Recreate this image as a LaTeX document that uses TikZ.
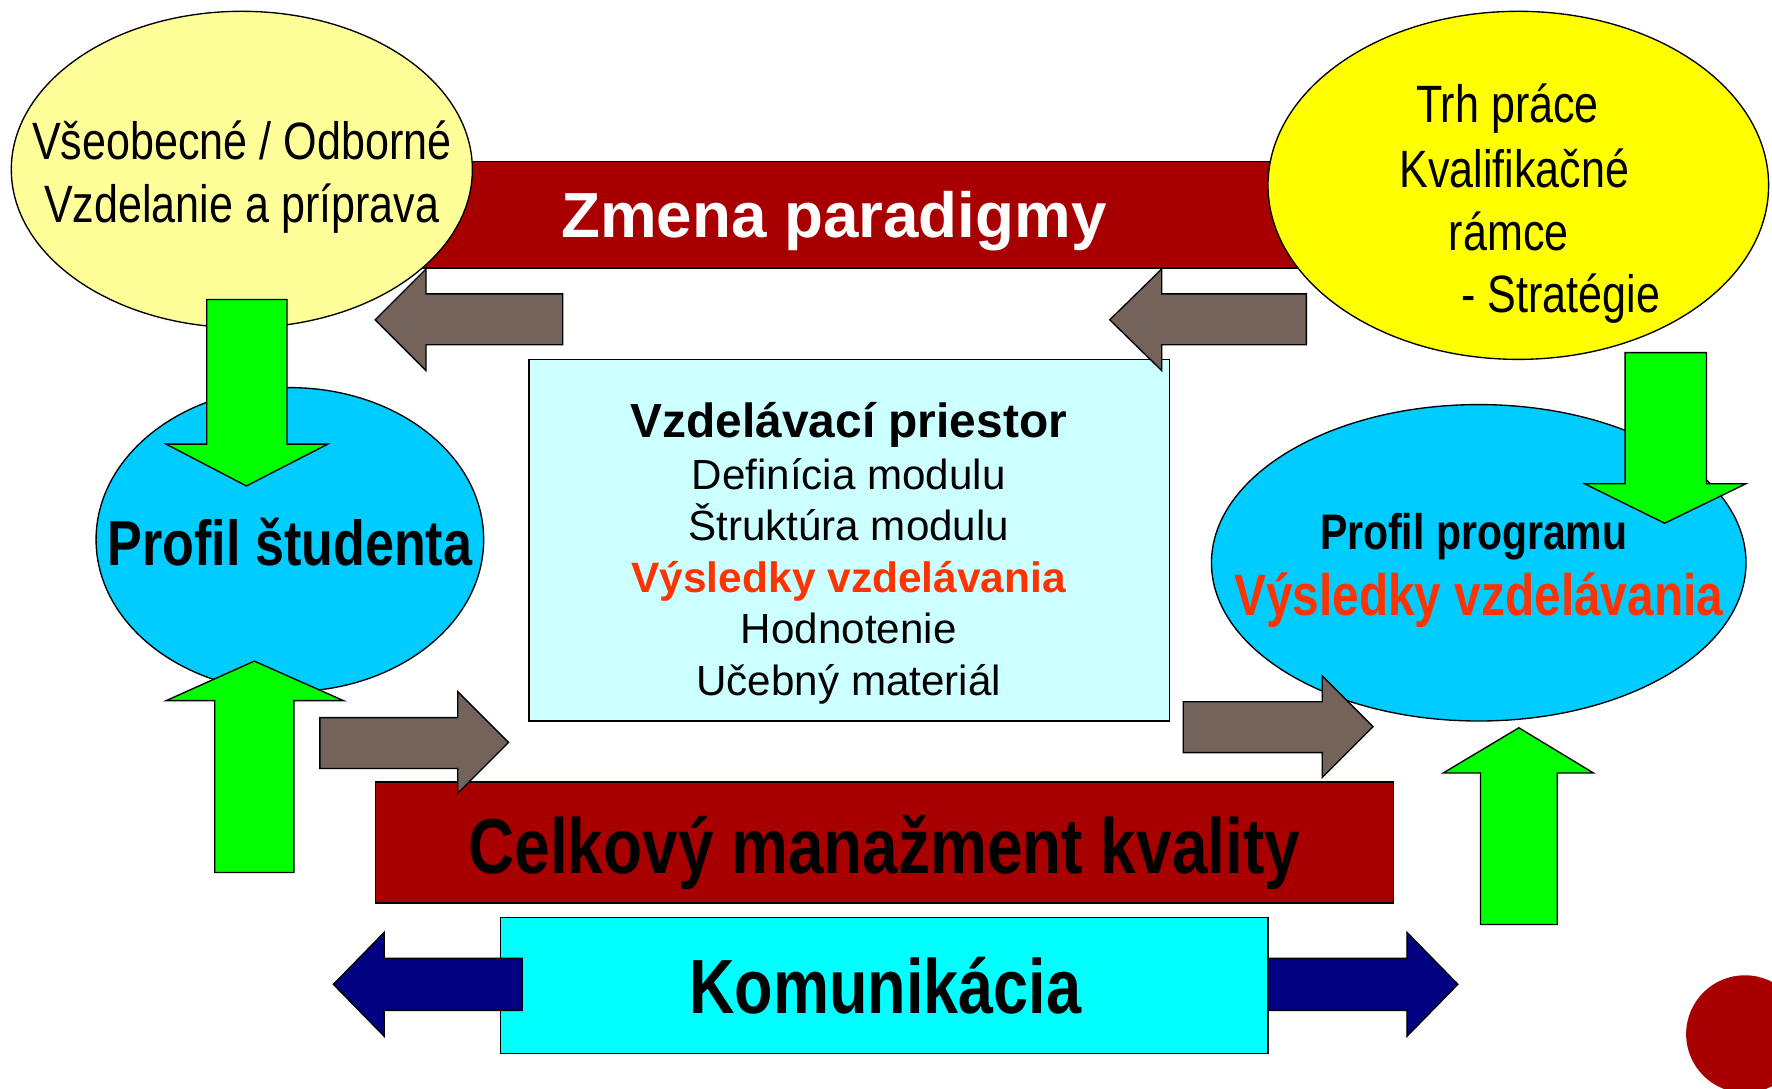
\documentclass[tikz,border=0pt]{standalone}
\usepackage{fontspec}
\setmainfont{Liberation Sans}
\newfontfamily\narrowfont[FakeStretch=0.82]{Liberation Sans}
\usetikzlibrary{shapes.geometric}
\definecolor{paleyel}{HTML}{FFFF99}
\definecolor{brightyel}{HTML}{FFFF00}
\definecolor{darkred}{HTML}{A80000}
\definecolor{brownarr}{HTML}{73635A}
\definecolor{palecyan}{HTML}{CCFFFF}
\definecolor{skyblue}{HTML}{00CCFF}
\definecolor{brightgreen}{HTML}{00FF00}
\definecolor{navyarr}{HTML}{000080}
\definecolor{cyanbox}{HTML}{00FFFF}
\definecolor{redtext}{HTML}{FF3300}
\begin{document}
\begin{tikzpicture}[x=0.5pt,y=-0.5pt,line width=0.6pt,
  ell/.style={draw=black,ellipse,inner sep=0pt},
  barbox/.style={draw=black,rectangle,inner sep=0pt},
  txt/.style={anchor=base,inner sep=0pt,text=black},
  blockarr/.style={draw=black,line join=miter},
  ntxt/.style={font=\narrowfont\fontsize{#1}{#1}\selectfont},
  ntxtb/.style={font=\narrowfont\bfseries\fontsize{#1}{#1}\selectfont},
  rtxt/.style={font=\fontsize{#1}{#1}\selectfont},
  rtxtb/.style={font=\bfseries\fontsize{#1}{#1}\selectfont}]
\useasboundingbox (0,0) rectangle (1568,963);
\fill[white] (0,0) rectangle (1568,963);

% Zmena paradigmy bar
\node (zmena) [barbox,fill=darkred,minimum width=450pt,minimum height=47pt] at (750,190) {};
\node (zmenat) [txt,rtxtb=28.2,text=white] at (738,210) {Zmena paradigmy};

% top ellipses
\node (vseob) [ell,fill=paleyel,minimum width=204pt,minimum height=140pt] at (214,150) {};
\node (vs1) [txt,ntxt=23.25] at (214,141.5) {Všeobecné / Odborné};
\node (vs2) [txt,ntxt=23.25] at (214,196.5) {Vzdelanie a príprava};

\node (trh) [ell,fill=brightyel,minimum width=221.5pt,minimum height=154pt] at (1343.5,164) {};
\node (tr1) [txt,ntxt=23.25] at (1334,108.5) {Trh práce};
\node (tr2) [txt,ntxt=23.25] at (1340,165.5) {Kvalifikačné};
\node (tr3) [txt,ntxt=23.25] at (1335,221.5) {rámce};
\node (tr4) [txt,ntxt=23.25] at (1381,276.5) {- Stratégie};

% center box
\node (priestor) [barbox,fill=palecyan,minimum width=283.5pt,minimum height=160pt] at (751.5,478) {};
\node (p0) [txt,rtxtb=21.2] at (751,387) {Vzdelávací priestor};
\node (p1) [txt,rtxt=18.65] at (751,433) {Definícia modulu};
\node (p2) [txt,rtxt=18.65] at (751,478.5) {Štruktúra modulu};
\node (p3) [txt,rtxtb=18.8,text=redtext] at (751,524) {Výsledky vzdelávania};
\node (p4) [txt,rtxt=18.65] at (751,569.5) {Hodnotenie};
\node (p5) [txt,rtxt=18.65] at (751,615) {Učebný materiál};

% brown arrows (top)
\draw[blockarr,fill=brownarr] (498,260) -- (377,260) -- (377,238) -- (332,283) -- (377,328) -- (377,305) -- (498,305) -- cycle;
\draw[blockarr,fill=brownarr] (1156,260) -- (1028,260) -- (1028,238) -- (982,283) -- (1028,328) -- (1028,305) -- (1156,305) -- cycle;

% profile ellipses
\node (student) [ell,fill=skyblue,minimum width=171.5pt,minimum height=134.5pt] at (256.5,477.5) {};
\node (studentt) [txt,ntxtb=28.1] at (256.5,500) {Profil študenta};

\node (program) [ell,fill=skyblue,minimum width=236.5pt,minimum height=140pt] at (1308.5,498) {};
\node (programt) [txt,ntxtb=22.1] at (1304,486) {Profil programu};
\node (programv) [txt,ntxtb=25.8,text=redtext] at (1308.5,545) {Výsledky vzdelávania};

% green arrows
\draw[blockarr,fill=brightgreen] (183,265) -- (254,265) -- (254,393) -- (290,393) -- (218,430) -- (147,393) -- (183,393) -- cycle;
\draw[blockarr,fill=brightgreen] (190,772) -- (260,772) -- (260,620) -- (304,620) -- (225,585) -- (147,620) -- (190,620) -- cycle;
\draw[blockarr,fill=brightgreen] (1438,312) -- (1510,312) -- (1510,428) -- (1545,428) -- (1473,463) -- (1402,428) -- (1438,428) -- cycle;
\draw[blockarr,fill=brightgreen] (1310,818) -- (1378,818) -- (1378,684) -- (1410,684) -- (1344,644) -- (1277,684) -- (1310,684) -- cycle;

% Celkovy bar
\node (tqm) [barbox,fill=darkred,minimum width=450.5pt,minimum height=53.5pt] at (782.5,745.5) {};
\node (tqmt) [txt,ntxtb=34.5] at (782.5,772.5) {Celkový manažment kvality};

% brown arrows (bottom)
\draw[blockarr,fill=brownarr] (283,635) -- (405,635) -- (405,612) -- (450,657) -- (405,702) -- (405,680) -- (283,680) -- cycle;
\draw[blockarr,fill=brownarr] (1047,621) -- (1170,621) -- (1170,598) -- (1215,643) -- (1170,688) -- (1170,666) -- (1047,666) -- cycle;

% Komunikacia
\node (komm) [barbox,fill=cyanbox,minimum width=339.5pt,minimum height=60pt] at (782.5,872) {};
\node (kommt) [txt,ntxtb=34] at (783.5,897) {Komunikácia};
\draw[blockarr,fill=navyarr] (462,848) -- (340,848) -- (340,825) -- (295,871) -- (340,917) -- (340,894) -- (462,894) -- cycle;
\draw[blockarr,fill=navyarr] (1122,848) -- (1245,848) -- (1245,825) -- (1290,871) -- (1245,917) -- (1245,894) -- (1122,894) -- cycle;

% red dot
\node (dot) [circle,fill=darkred,minimum size=52pt,inner sep=0pt] at (1544,915) {};
\end{tikzpicture}
\end{document}
